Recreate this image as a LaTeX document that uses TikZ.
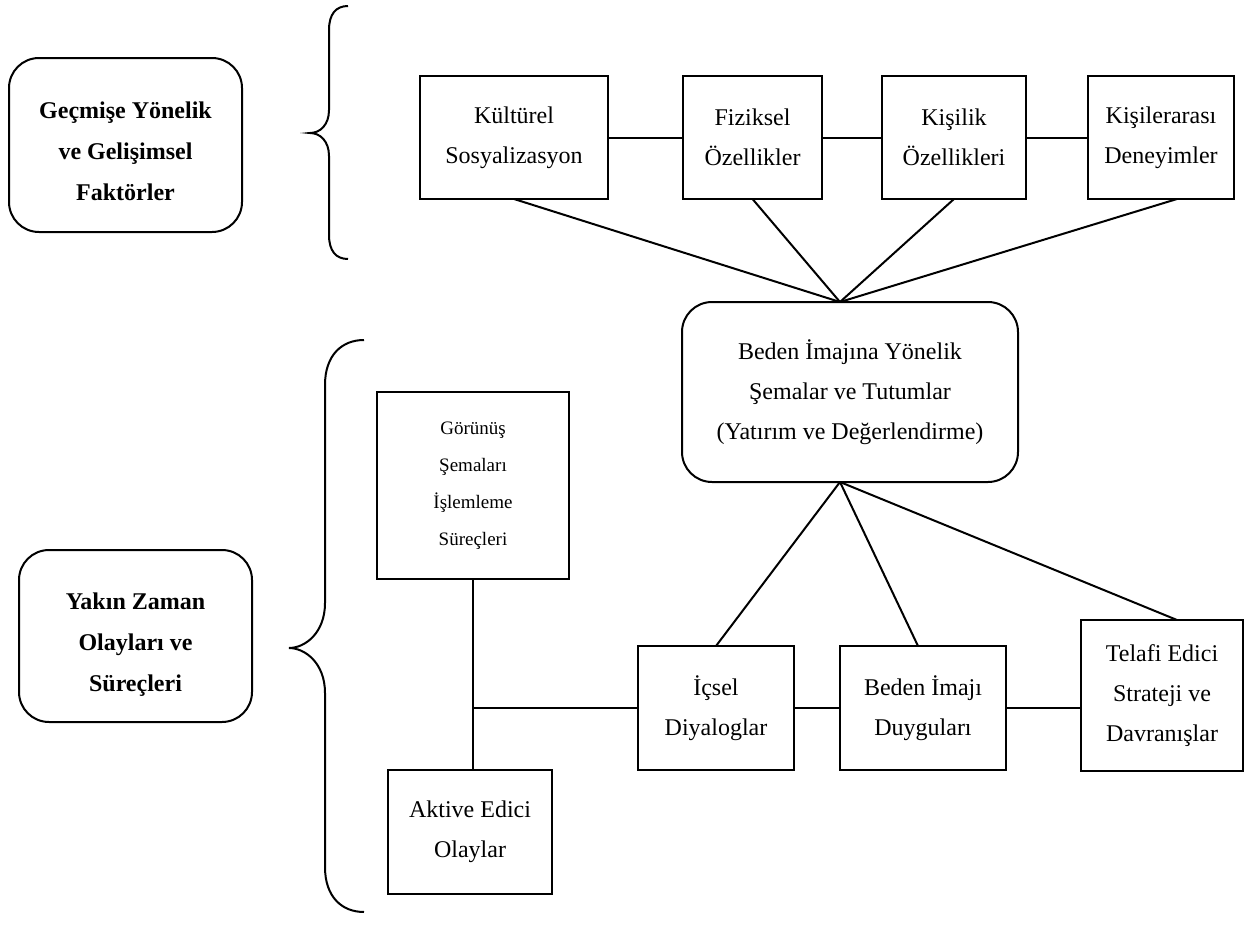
\documentclass[tikz,border=0pt]{standalone}
\usepackage{fontspec}
\setmainfont{Liberation Serif}
\begin{document}
\begin{tikzpicture}[x=0.5pt,y=-0.5pt,line width=1pt,
  txt/.style={font=\fontsize{12}{20}\selectfont,align=center},
  sbox/.style={draw,rectangle,inner sep=0pt,outer sep=0pt,txt},
  rbox/.style={draw,rectangle,rounded corners=15pt,inner sep=0pt,outer sep=0pt,txt},
  bbox/.style={rbox,font=\fontsize{12}{20.5}\selectfont\bfseries,text height=55pt,text depth=0pt},
  link/.style={draw,line width=1pt}]
\useasboundingbox (0,0) rectangle (1254,942);
% left rounded boxes
\node[bbox,minimum width=116.5pt,minimum height=87pt] (past) at (125.5,145) {Geçmişe Yönelik\\ve Gelişimsel\\Faktörler};
\node[bbox,minimum width=116.5pt,minimum height=86pt] (near) at (135.5,636) {Yakın Zaman\\Olayları ve\\Süreçleri};
% braces
\draw (348,6) .. controls (336,6) and (329,14) .. (329,30) -- (329,110)
  .. controls (329,125) and (320,133) .. (310,133)
  .. controls (320,133) and (329,141) .. (329,156) -- (329,235)
  .. controls (329,251) and (336,259) .. (348,259);
\draw (364,340) .. controls (342,340) and (325,355) .. (325,385) -- (325,603)
  .. controls (325,633) and (305,648) .. (289,648)
  .. controls (305,648) and (325,663) .. (325,693) -- (325,867)
  .. controls (325,897) and (342,912) .. (364,912);
% top boxes
\node[sbox,minimum width=94pt,minimum height=61.5pt] (kul) at (514,137.5) {Kültürel\\Sosyalizasyon};
\node[sbox,minimum width=69.5pt,minimum height=61.5pt] (fiz) at (752.5,137.5) {Fiziksel\\Özellikler};
\node[sbox,minimum width=72pt,minimum height=61.5pt] (kis) at (954,137.5) {Kişilik\\Özellikleri};
\node[sbox,minimum width=73pt,minimum height=61.5pt] (kar) at (1161,137.5) {Kişilerarası\\Deneyimler};
% central box
\node[rbox,minimum width=168pt,minimum height=90pt] (cen) at (850,392) {Beden İmajına Yönelik\\Şemalar ve Tutumlar\\(Yatırım ve Değerlendirme)};
% lower boxes
\node[sbox,minimum width=96pt,minimum height=93.5pt,font=\fontsize{9.5}{18.5}\selectfont] (gor) at (473,485.5) {Görünüş\\Şemaları\\İşlemleme\\Süreçleri};
\node[sbox,minimum width=82pt,minimum height=62pt] (akt) at (470,832) {Aktive Edici\\Olaylar};
\node[sbox,minimum width=78pt,minimum height=62pt] (ics) at (716,708) {İçsel\\Diyaloglar};
\node[sbox,minimum width=83pt,minimum height=62pt] (bed) at (923,708) {Beden İmajı\\Duyguları};
\node[sbox,minimum width=81pt,minimum height=75.5pt] (tel) at (1162,695.5) {Telafi Edici\\Strateji ve\\Davranışlar};
% connectors top row
\draw[link] (kul.east) -- (fiz.west);
\draw[link] (fiz.east) -- (kis.west);
\draw[link] (kis.east) -- (kar.west);
\coordinate (apexT) at ([xshift=-5pt]cen.north);
\coordinate (apexB) at ([xshift=-5pt]cen.south);
\draw[link] (kul.south) -- (apexT);
\draw[link] (fiz.south) -- (apexT);
\draw[link] (kis.south) -- (apexT);
\draw[link] ([xshift=8pt]kar.south) -- (apexT);
% connectors bottom
\draw[link] (apexB) -- (ics.north);
\draw[link] (apexB) -- ([xshift=-2.5pt]bed.north);
\draw[link] (apexB) -- ([xshift=7.5pt]tel.north);
\draw[link] (ics.east) -- (bed.west);
\draw[link] (bed.east) -- (bed.east -| tel.west);
\coordinate (junc) at (gor.south |- ics.west);
\draw[link] (gor.south) -- (gor.south |- akt.north);
\draw[link] (junc) -- (ics.west);
\end{tikzpicture}
\end{document}
